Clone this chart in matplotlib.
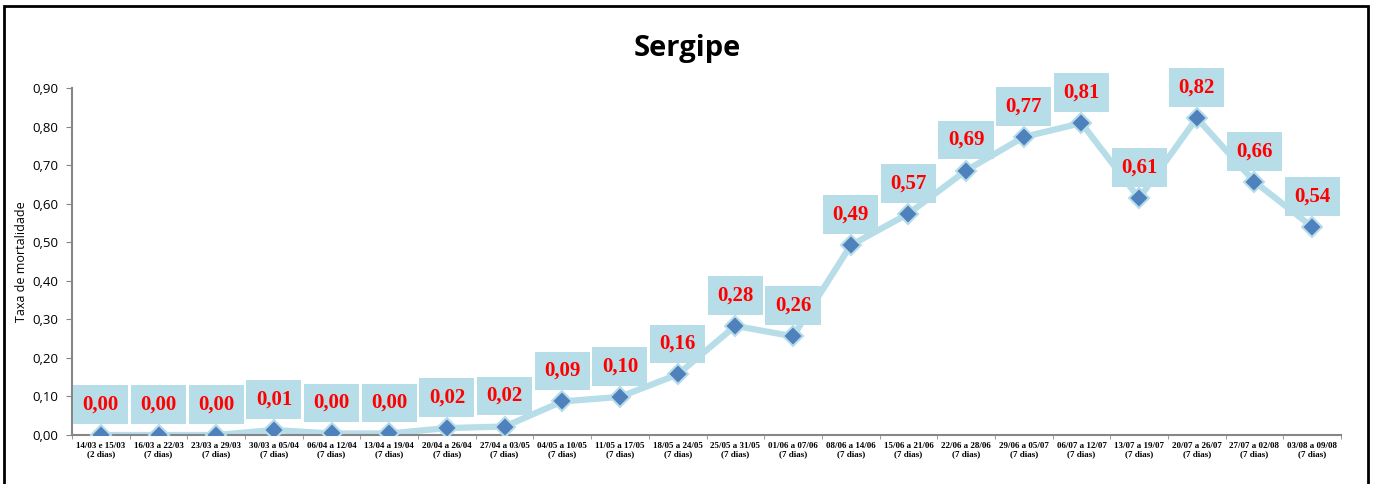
import matplotlib.pyplot as plt
from matplotlib.patches import Rectangle
from matplotlib.ticker import FixedLocator

# Weekly periods (x categories)
periods = ['14/03 e 15/03\n(2 dias)', '16/03 a 22/03\n(7 dias)', '23/03 a 29/03\n(7 dias)',
           '30/03 a 05/04\n(7 dias)', '06/04 a 12/04\n(7 dias)', '13/04 a 19/04\n(7 dias)',
           '20/04 a 26/04\n(7 dias)', '27/04 a 03/05\n(7 dias)', '04/05 a 10/05\n(7 dias)',
           '11/05 a 17/05\n(7 dias)', '18/05 a 24/05\n(7 dias)', '25/05 a 31/05\n(7 dias)',
           '01/06 a 07/06\n(7 dias)', '08/06 a 14/06\n(7 dias)', '15/06 a 21/06\n(7 dias)',
           '22/06 a 28/06\n(7 dias)', '29/06 a 05/07\n(7 dias)', '06/07 a 12/07\n(7 dias)',
           '13/07 a 19/07\n(7 dias)', '20/07 a 26/07\n(7 dias)', '27/07 a 02/08\n(7 dias)',
           '03/08 a 09/08\n(7 dias)']

# Mortality rate per period
taxa = [0.000, 0.000, 0.000, 0.013, 0.004, 0.004, 0.018, 0.022, 0.087, 0.099, 0.157,
        0.283, 0.256, 0.492, 0.574, 0.686, 0.773, 0.809, 0.614, 0.822, 0.657, 0.540]

yticks = [0.0, 0.1, 0.2, 0.3, 0.4, 0.5, 0.6, 0.7, 0.8, 0.9]

line_color = '#b7dde8'
marker_color = '#4f81bd'
axis_color = '#868686'

fig = plt.figure(figsize=(13.74, 4.84), dpi=100)
ax = fig.add_axes([0.0524, 0.1012, 0.9236, 0.717])

x = list(range(len(taxa)))
ax.plot(x, taxa, color=line_color, linewidth=4.5, zorder=2)
ax.plot(x, taxa, linestyle='none', marker='D', markersize=10,
        markerfacecolor=marker_color, markeredgecolor=line_color, markeredgewidth=1.5, zorder=3)

# data labels in light blue boxes
for xi, v in zip(x, taxa):
    ax.annotate(f'{v:.2f}'.replace('.', ','), (xi, v), xytext=(0, 22), textcoords='offset points',
                ha='center', va='center', color='red', fontsize=15, fontweight='bold',
                family='Liberation Serif',
                bbox=dict(boxstyle='square,pad=0.45', facecolor=line_color, edgecolor='none'),
                zorder=4)

ax.set_xlim(-0.5, len(taxa) - 0.5)
ax.set_ylim(0, 0.9)
ax.set_yticks(yticks)
ax.set_yticklabels([f'{t:.2f}'.replace('.', ',') for t in yticks], fontsize=9.5, family='Open Sans')
ax.set_xticks(x)
ax.set_xticklabels(periods, fontsize=6.5, fontweight='bold', family='Liberation Serif', linespacing=1.0)
ax.xaxis.set_minor_locator(FixedLocator([i - 0.5 for i in range(len(taxa) + 1)]))
ax.tick_params(axis='x', which='major', length=0, pad=5)
ax.tick_params(axis='x', which='minor', length=3, color=axis_color)
ax.tick_params(axis='y', length=4, color=axis_color, pad=6)

for s in ['top', 'right']:
    ax.spines[s].set_visible(False)
for s in ['left', 'bottom']:
    ax.spines[s].set_color(axis_color)
    ax.spines[s].set_linewidth(1.5)

ax.set_ylabel('Taxa de mortalidade', fontsize=9, family='Open Sans', labelpad=3)
fig.text(0.5, 0.9, 'Sergipe', ha='center', va='center', fontsize=21, fontweight='bold',
         family='Open Sans')

# outer frame
fig.patches.append(Rectangle((4 / 1374, -0.1), 1364 / 1374, 1.1 - 6 / 484, transform=fig.transFigure,
                             fill=False, edgecolor='black', linewidth=2))

fig.savefig('out.png', dpi=100)
